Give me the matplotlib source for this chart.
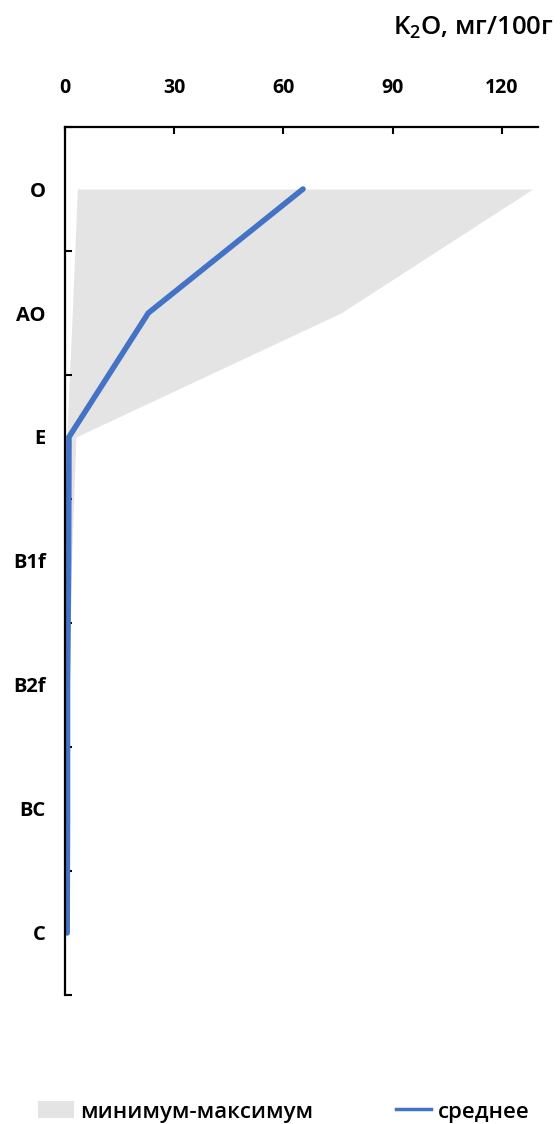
import matplotlib
matplotlib.use("Agg")
import matplotlib.pyplot as plt
from matplotlib.patches import Patch
from matplotlib.lines import Line2D
import numpy as np

plt.rcParams['font.family'] = ['Open Sans', 'DejaVu Sans']
plt.rcParams['mathtext.fontset'] = 'custom'
plt.rcParams['mathtext.rm'] = 'Open Sans:semibold'
plt.rcParams['mathtext.it'] = 'Open Sans:semibold'

# Soil horizons and K2O content, mg/100 g
horizons = ["O", "AO", "E", "B1f", "B2f", "BC", "C"]
k2o_mean = [65.4, 22.9, 1.1, 1.0, 0.7, 0.7, 0.6]
k2o_max = [128.5, 75.8, 3.0, 1.8, 1.2, 1.0, 0.9]
k2o_min = [3.4, 2.0, 0.5, 0.2, 0.1, 0.1, 0.1]
x_ticks = [0, 30, 60, 90, 120]

fig = plt.figure(figsize=(5.6, 11.24), dpi=100)
ax = fig.add_axes([0.116, 0.1148, 0.845, 0.7722])

pos = np.arange(len(horizons))
ax.fill_betweenx(pos, k2o_min, k2o_max, color="#e4e4e4", linewidth=0)
ax.plot(k2o_mean, pos, color="#4472C4", linewidth=4.0, solid_capstyle="round",
        solid_joinstyle="miter")

ax.set_xlim(0, 130)
ax.set_ylim(len(horizons) - 0.5, -0.5)

ax.xaxis.tick_top()
ax.set_xticks(x_ticks)
ax.set_xticklabels([str(v) for v in x_ticks], fontsize=14, fontweight="bold")
ax.tick_params(axis="x", direction="in", length=5, width=1.5, pad=21)

ax.set_yticks(np.arange(-0.5, len(horizons), 1.0))
ax.set_yticklabels([])
ax.set_yticks(pos, minor=True)
ax.set_yticklabels(horizons, minor=True, fontsize=14.5, fontweight="bold")
ax.tick_params(axis="y", which="major", direction="in", length=5, width=1.5)
ax.tick_params(axis="y", which="minor", length=0, pad=14)

for side in ("right", "bottom"):
    ax.spines[side].set_visible(False)
for side in ("left", "top"):
    ax.spines[side].set_linewidth(1.6)

fig.text(0.988, 0.975, "K$_2$O, мг/100г", ha="right", va="center", fontsize=18.5,
         fontweight="semibold")

handles = [Patch(facecolor="#e4e4e4", edgecolor="none"),
           Line2D([0], [0], color="#4472C4", linewidth=2.5)]
fig.legend(handles, ["минимум-максимум", "среднее"], loc="center left",
           bbox_to_anchor=(0.048, 0.0107), ncol=2, frameon=False,
           prop={"size": 16, "weight": "semibold"}, borderpad=0,
           handlelength=1.6, handleheight=0.8, handletextpad=0.3,
           columnspacing=3.7)

fig.savefig("out.png", dpi=100)
